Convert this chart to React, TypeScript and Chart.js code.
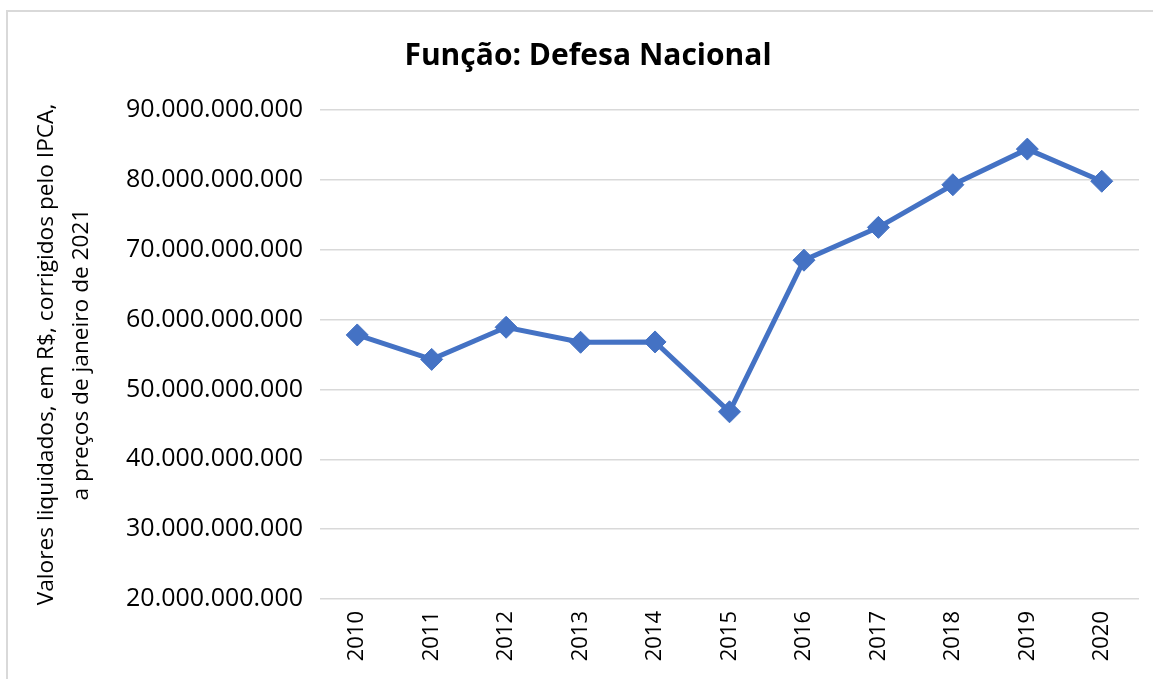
import React, { useEffect, useRef } from "react";
import { Chart, registerables } from "chart.js";

Chart.register(...registerables);

const years = ["2010", "2011", "2012", "2013", "2014", "2015", "2016", "2017", "2018", "2019", "2020"];
const valores = [57.8e9, 54.3e9, 58.9e9, 56.75e9, 56.8e9, 46.8e9, 68.5e9, 73.2e9, 79.3e9, 84.4e9, 79.8e9];
const chartTitle = "Função: Defesa Nacional";
const yTitle = ["Valores liquidados, em R$, corrigidos pelo IPCA,", "a preços de janeiro de 2021"];
const yMin = 20e9;
const yMax = 90e9;
const yStep = 10e9;

const fmt = (v: number) => Math.round(v).toString().replace(/\B(?=(\d{3})+(?!\d))/g, ".");

const FONT = "'Open Sans', 'Liberation Sans', sans-serif";

const frame = {
  id: "frame",
  beforeDraw(chart: any) {
    const ctx = chart.ctx;
    ctx.save();
    ctx.fillStyle = "#ffffff";
    ctx.fillRect(0, 0, chart.width, chart.height);
    ctx.strokeStyle = "#d9d9d9";
    ctx.lineWidth = 2;
    ctx.strokeRect(7, 11, chart.width + 20, chart.height + 20);
    ctx.restore();
  },
  afterDraw(chart: any) {
    const ctx = chart.ctx;
    ctx.save();
    ctx.fillStyle = "#000000";
    ctx.font = `bold 30px ${FONT}`;
    ctx.textAlign = "center";
    ctx.textBaseline = "middle";
    ctx.fillText(chartTitle, 588, 56);
    ctx.restore();
  },
};

export default function App() {
  const ref = useRef<HTMLCanvasElement | null>(null);
  useEffect(() => {
    if (!ref.current) return;
    const chart = new Chart(ref.current, {
      type: "line",
      data: {
        labels: years,
        datasets: [
          {
            data: valores,
            borderColor: "#4472C4",
            backgroundColor: "#4472C4",
            borderWidth: 5,
            pointStyle: "rectRot",
            pointRadius: 11,
            pointBorderWidth: 1,
            tension: 0,
          },
        ],
      },
      options: {
        animation: false,
        responsive: false,
        maintainAspectRatio: false,
        layout: { padding: { top: 110, left: 0, right: 14, bottom: 0 } },
        plugins: { legend: { display: false }, tooltip: { enabled: false }, title: { display: false } },
        scales: {
          x: {
            offset: true,
            grid: { display: false, drawTicks: false },
            border: { display: false },
            ticks: {
              minRotation: 90,
              maxRotation: 90,
              padding: 12,
              color: "#000",
              font: { family: FONT, size: 22 },
            },
            afterFit(scale: any) {
              scale.height = 80;
            },
          },
          y: {
            min: yMin,
            max: yMax,
            grid: { color: "#d9d9d9", lineWidth: 1.5, drawTicks: false },
            border: { display: false },
            ticks: {
              stepSize: yStep,
              padding: 17,
              color: "#000",
              font: { family: FONT, size: 25 },
              callback: (v: any) => fmt(Number(v)),
            },
            title: {
              display: true,
              text: yTitle,
              color: "#000",
              font: { family: FONT, size: 22.7, lineHeight: 1.5 },
              padding: { top: 30, bottom: 0 },
            },
            afterFit(scale: any) {
              scale.width = 320;
            },
          },
        },
      },
      plugins: [frame],
    });
    return () => chart.destroy();
  }, []);
  return (
    <div style={{ position: "absolute", left: 0, top: 0, width: 1153, height: 679 }}>
      <canvas ref={ref} width={1153} height={679} style={{ display: "block" }} />
    </div>
  );
}
